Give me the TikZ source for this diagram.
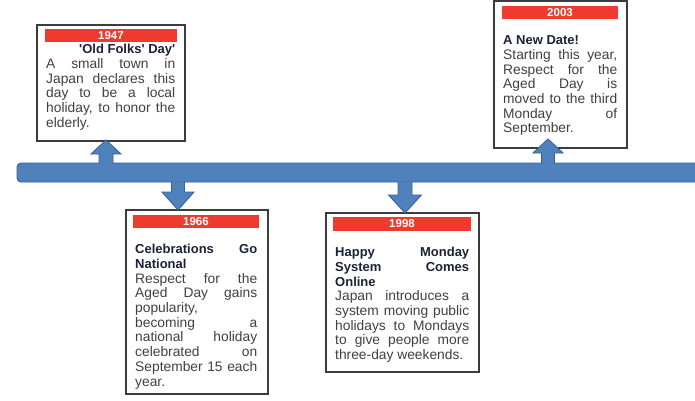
\documentclass[tikz,border=0pt]{standalone}
\usepackage{fontspec}
\setmainfont{Liberation Sans}
\definecolor{tlblue}{HTML}{4F81BD}
\definecolor{tlborder}{HTML}{3A6193}
\definecolor{yearred}{HTML}{EE3B2E}
\definecolor{bodygray}{HTML}{404040}
\definecolor{titlenavy}{HTML}{1B2238}
\definecolor{boxline}{HTML}{3C3C3C}
\tikzset{
  evbox/.style={draw=boxline, line width=1.1pt, fill=white},
  yearbar/.style={fill=yearred, draw=none},
  yeartext/.style={text=white, font=\fontsize{11.5}{12}\selectfont\bfseries, inner sep=0pt},
  blockarrow/.style={fill=tlblue, draw=tlborder, line width=0.9pt, line join=miter},
  bodytext/.style={anchor=base west, inner sep=0pt, text width=#1, align=justify,
     text=bodygray, font=\fontsize{13.8}{14.7}\selectfont},
}
\newcommand{\ttl}[1]{{\fontsize{13}{14.7}\selectfont\bfseries\color{titlenavy}#1}}
\begin{document}
\begin{tikzpicture}[x=1pt,y=-1pt]
\clip (0,0) rectangle (695,400);
\fill[white] (0,0) rectangle (695,400);
% timeline
\draw[blockarrow, rounded corners=4pt] (17,163) rectangle (720,182);
\coordinate (tltop) at (0,163);
\coordinate (tlbot) at (0,182);

% box 1947
\draw[evbox] (37,25) rectangle (185,141);
\node[yearbar, minimum width=132pt, minimum height=13pt, inner sep=0pt] (r47) at (111,35.5) {};
\node[yeartext] (y47) at (r47) {1947};
\node[bodytext=129pt] (t47) at (46,53.7) {{\raggedleft\ttl{\textquotesingle Old Folks\textquotesingle{} Day\textquotesingle}\par}
A small town in\linebreak Japan declares this\linebreak day to be a local\linebreak holiday, to honor the\linebreak elderly.};

% box 1966
\draw[evbox] (126,210) rectangle (268,394);
\node[yearbar, minimum width=126pt, minimum height=13pt, inner sep=0pt] (r66) at (196,221.5) {};
\node[yeartext] (y66) at (r66) {1966};
\node[bodytext=122pt] (t66) at (135,253.7) {\ttl{Celebrations Go\linebreak National}\par
Respect for the\linebreak Aged Day gains\linebreak popularity,\newline becoming a\linebreak national holiday\linebreak celebrated on\linebreak September 15 each\linebreak year.};

% box 1998
\draw[evbox] (326,213) rectangle (479,372);
\node[yearbar, minimum width=138pt, minimum height=14pt, inner sep=0pt] (r98) at (402,224) {};
\node[yeartext] (y98) at (r98) {1998};
\node[bodytext=134pt] (t98) at (335,256.7) {\ttl{Happy Monday\linebreak System Comes\linebreak Online}\par
Japan introduces a\linebreak system moving public\linebreak holidays to Mondays\linebreak to give people more\linebreak three-day weekends.};

% box 2003
\draw[evbox] (494,1) rectangle (627,148);
\node[yearbar, minimum width=116pt, minimum height=13pt, inner sep=0pt] (r03) at (560,12.5) {};
\node[yeartext] (y03) at (r03) {2003};
\node[bodytext=114pt] (t03) at (503,44.7) {\ttl{A New Date!}\par
Starting this year,\linebreak Respect for the\linebreak Aged Day is\linebreak moved to the third\linebreak Monday of\linebreak September.};

% arrows up
\draw[blockarrow] (99,163.5) -- (99,154) -- (91,154) -- (106,140) -- (121,154) -- (113,154) -- (113,163.5);
\draw[blockarrow] (541.5,163.5) -- (541.5,153) -- (533,153) -- (548,139) -- (563,153) -- (554.5,153) -- (554.5,163.5);
% arrows down
\draw[blockarrow] (171.5,181.5) -- (171.5,192) -- (162,192) -- (178,210) -- (194,192) -- (184.5,192) -- (184.5,181.5);
\draw[blockarrow] (398,181.5) -- (398,195) -- (388.5,195) -- (405,213) -- (421.5,195) -- (412,195) -- (412,181.5);
\end{tikzpicture}
\end{document}
